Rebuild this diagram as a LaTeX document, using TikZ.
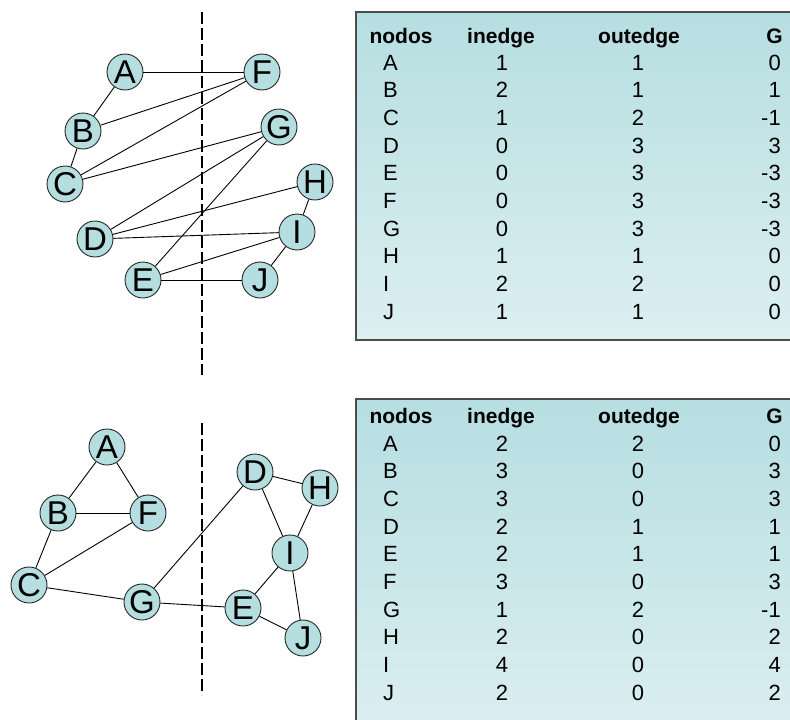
\documentclass[tikz,border=0pt]{standalone}
\usepackage{fontspec}
\setmainfont{Liberation Sans}
\usetikzlibrary{positioning}

\definecolor{nodefill}{HTML}{B4DEE0}
\definecolor{tabtop}{HTML}{B6DEE1}
\definecolor{tabbot}{HTML}{DCEFF1}

\tikzset{
  vertex/.style={circle, draw=black!85, line width=0.9pt, fill=nodefill,
    minimum size=36pt, inner sep=0pt, font=\fontsize{33}{33}\selectfont},
  link/.style={black, line width=0.9pt},
  cut/.style={black, line width=2pt, dash pattern=on 12pt off 4pt},
  tabbox/.style={draw=black!70, line width=1.2pt, top color=tabtop, bottom color=tabbot},
  cell/.style={inner sep=0pt, font=\fontsize{22}{22}\selectfont},
  head/.style={cell, font=\fontsize{21}{21}\selectfont\bfseries}
}

\begin{document}
\begin{tikzpicture}[x=1pt, y=-1pt]
    \useasboundingbox (0,0) rectangle (790,720);

    % tables behind everything
    \path[tabbox] (356,12) rectangle (810,340);
    \path[tabbox] (356,399) rectangle (810,740);

    % --- first graph ---
    \coordinate (cut1a) at (202,12);
    \coordinate (cut1b) at (202,375);
    \draw[cut] (cut1a) -- (cut1b);

    \node[vertex] (A1) at (125,72) {A};
    \node[vertex] (B1) at (83,131) {B};
    \node[vertex] (C1) at (65,184) {C};
    \node[vertex] (D1) at (95,239) {D};
    \node[vertex] (E1) at (143,280) {E};
    \node[vertex] (F1) at (262,72) {F};
    \node[vertex] (G1) at (279,127) {G};
    \node[vertex] (H1) at (315,182) {H};
    \node[vertex] (I1) at (297,232) {I};
    \node[vertex] (J1) at (260,280) {J};

    \foreach \u/\v in {A1/F1, A1/B1, B1/C1, B1/F1, C1/F1, C1/G1, D1/G1, D1/H1,
                       D1/I1, E1/G1, E1/I1, E1/J1, H1/I1, I1/J1}
        \draw[link] (\u) -- (\v);

    % --- second graph ---
    \coordinate (cut2a) at (202,423);
    \coordinate (cut2b) at (202,695);
    \draw[cut] (cut2a) -- (cut2b);

    \node[vertex] (A2) at (107,447) {A};
    \node[vertex] (B2) at (58,513) {B};
    \node[vertex] (C2) at (29,585) {C};
    \node[vertex] (D2) at (255,472) {D};
    \node[vertex] (E2) at (243,608) {E};
    \node[vertex] (F2) at (148,513) {F};
    \node[vertex] (G2) at (142,602) {G};
    \node[vertex] (H2) at (320,488) {H};
    \node[vertex] (I2) at (290,553) {I};
    \node[vertex] (J2) at (303,638) {J};

    \foreach \u/\v in {A2/B2, A2/F2, B2/F2, B2/C2, C2/F2, C2/G2, G2/D2, G2/E2,
                       D2/H2, D2/I2, H2/I2, I2/E2, I2/J2, E2/J2}
        \draw[link] (\u) -- (\v);

    % --- first table ---
    \node[head, anchor=base] (h1n) at (401,43) {nodos};
    \node[head, anchor=base] (h1i) at (501,43) {inedge};
    \node[head, anchor=base] (h1o) at (639,43) {outedge};
    \node[head, anchor=base east] (h1g) at (783,43) {G};
    \foreach \n/\i/\o/\g [count=\k from 0] in
        {A/1/1/0, B/2/1/1, C/1/2/-1, D/0/3/3, E/0/3/-3,
         F/0/3/-3, G/0/3/-3, H/1/1/0, I/2/2/0, J/1/1/0}
    {
        \node[cell, anchor=base west] (r1n\k) at (383,70+27.7*\k) {\n};
        \node[cell, anchor=base] (r1i\k) at (502,70+27.7*\k) {\i};
        \node[cell, anchor=base] (r1o\k) at (638,70+27.7*\k) {\o};
        \node[cell, anchor=base east] (r1g\k) at (781,70+27.7*\k) {\g};
    }

    % --- second table ---
    \node[head, anchor=base] (h2n) at (401,423) {nodos};
    \node[head, anchor=base] (h2i) at (501,423) {inedge};
    \node[head, anchor=base] (h2o) at (639,423) {outedge};
    \node[head, anchor=base east] (h2g) at (783,423) {G};
    \foreach \n/\i/\o/\g [count=\k from 0] in
        {A/2/2/0, B/3/0/3, C/3/0/3, D/2/1/1, E/2/1/1,
         F/3/0/3, G/1/2/-1, H/2/0/2, I/4/0/4, J/2/0/2}
    {
        \node[cell, anchor=base west] (r2n\k) at (383,451+27.7*\k) {\n};
        \node[cell, anchor=base] (r2i\k) at (502,451+27.7*\k) {\i};
        \node[cell, anchor=base] (r2o\k) at (638,451+27.7*\k) {\o};
        \node[cell, anchor=base east] (r2g\k) at (781,451+27.7*\k) {\g};
    }
\end{tikzpicture}
\end{document}
